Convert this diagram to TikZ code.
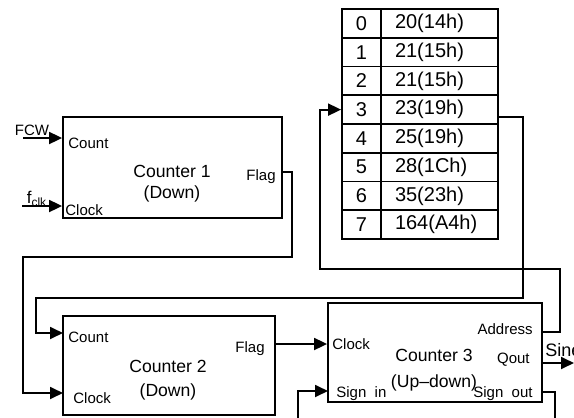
\documentclass[tikz,border=0pt]{standalone}
\usepackage{fontspec}
\setmainfont{Liberation Sans}
\usetikzlibrary{arrows.meta}

\tikzset{
  blk/.style={draw, line width=0.9pt, inner sep=0pt},
  port/.style={inner sep=0pt, font=\fontsize{7.5}{9}\selectfont},
  heading/.style={align=center, inner sep=0pt, font=\fontsize{8.8}{#1}\selectfont},
  cell/.style={draw, line width=0.9pt, minimum height=14.375pt, inner sep=0pt, font=\fontsize{10}{12}\selectfont},
  wire/.style={line width=0.9pt}
}

\begin{document}
\begin{tikzpicture}[x=0.5pt, y=-0.5pt, >={Triangle[length=6.5pt, width=6pt]}]
\useasboundingbox (0,0) rectangle (574,418);

% counters
\node[blk, minimum width=109.5pt, minimum height=50.5pt] (c1) at (172.5,167.5) {};
\node[blk, minimum width=106pt, minimum height=49.5pt] (c2) at (169,365.5) {};
\node[blk, minimum width=107pt, minimum height=49.5pt] (c3) at (435,352.5) {};

\node[heading=10.5pt] (t1) at (172,184) {Counter 1\\(Down)};
\node[heading=12pt] (t2) at (168,380) {Counter 2\\(Down)};
\node[heading=13pt] (t3) at (434,370) {Counter 3\\(Up--down)};

% ports
\node[port, anchor=west] (cnt1) at (68,143) {Count};
\node[port, anchor=west] (clk1) at (65,210) {Clock};
\node[port, anchor=east] (flg1) at (276,177) {Flag};
\node[port, anchor=west] (cnt2) at (68,337) {Count};
\node[port, anchor=west] (clk2) at (73,398) {Clock};
\node[port, anchor=east] (flg2) at (265,349) {Flag};
\node[port, anchor=west] (clk3) at (332,344) {Clock};
\node[port, anchor=west] (sgi3) at (336,394) {Sign\ \ in};
\node[port, anchor=east] (adr3) at (533,329) {Address};
\node[port, anchor=east] (qo3) at (530,360) {Qout};
\node[port, anchor=east] (sgo3) at (533,394) {Sign\ \ out};

% table
\foreach \v [count=\i from 0] in {20(14h), 21(15h), 21(15h), 23(19h), 25(19h), 28(1Ch), 35(23h), 164(A4h)} {
  \node[cell, minimum width=19.5pt] (i\i) at (361.5, {23.375+28.75*\i}) {\i};
  \node[cell, text width=44.5pt, inner xsep=7pt, align=left] (v\i) at (439.5, {23.375+28.75*\i}) {\v};
}

% inputs
\coordinate (fcw) at (23,138);
\coordinate (fclk) at (22,206);
\node[port] (fcwl) at (32,130) {FCW};
\node[port, font=\fontsize{8.5}{10}\selectfont] (fclkl) at (37,199) {f\textsubscript{clk}};
\draw[wire, ->] (fcw) -- (fcw -| c1.west);
\draw[wire, ->] (fclk) -- (fclk -| c1.west);

% wires
\coordinate (f1) at (282,172);
\coordinate (k2) at (63,393);
\draw[wire, ->] (f1) -| (292,257) -| (23,393) -- (k2);

\coordinate (n2) at (63,333);
\draw[wire, ->] ([yshift=-3.75pt]v3.east) -| (523,298) -| (36,333) -- (n2);

\coordinate (ad) at (542,332);
\draw[wire, ->] (ad) -| (560,269) -| ([xshift=-10.5pt]i3.west) -- (i3.west);

\coordinate (f2) at (275,344);
\draw[wire, ->] (f2) -- (f2 -| c3.west);

\coordinate (qo) at (542,363);
\coordinate (sine) at (574,363);
\node[port, anchor=west, font=\fontsize{9}{11}\selectfont] (sinel) at (545,350) {Sine};
\draw[wire, ->] (qo) -- (sine);

\coordinate (so) at (542,392);
\coordinate (so2) at (555,425);
\draw[wire] (so) -| (so2);

\coordinate (si2) at (298,425);
\coordinate (si) at (328,391);
\draw[wire, ->] (si2) |- (si);
\end{tikzpicture}
\end{document}
